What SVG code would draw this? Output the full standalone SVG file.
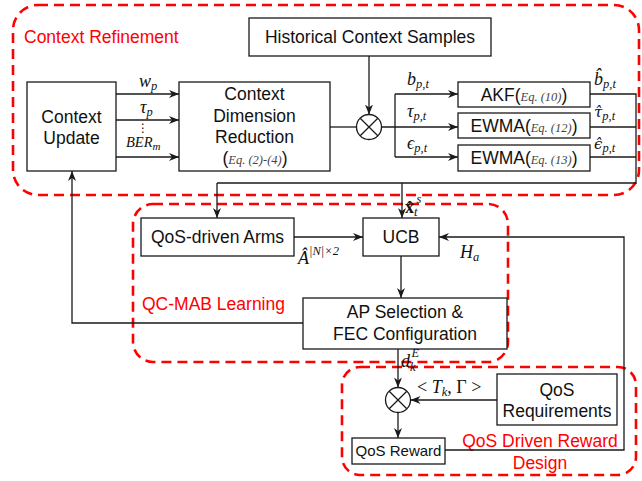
<svg xmlns="http://www.w3.org/2000/svg" width="642" height="481" viewBox="0 0 642 481">
  <defs>
    <marker id="ah" markerWidth="11" markerHeight="8" refX="10" refY="4" orient="auto" markerUnits="userSpaceOnUse">
      <path d="M0,0 L10,4 L0,8 L3,4 z" fill="#1a1a1a"/>
    </marker>
    <style>
      .box{fill:#fff;stroke:#1a1a1a;stroke-width:1.3}
      .wire{fill:none;stroke:#1a1a1a;stroke-width:1.3}
      .arr{fill:none;stroke:#1a1a1a;stroke-width:1.3;marker-end:url(#ah)}
      .zone{fill:none;stroke:#ff0000;stroke-width:2.6;stroke-dasharray:10 6}
      .t{font-family:"Liberation Sans",Arial,sans-serif;font-size:17.5px;fill:#111;text-anchor:middle}
      .ts{font-family:"Liberation Sans",Arial,sans-serif;font-size:15px;fill:#111;text-anchor:middle}
      .zl{font-family:"Liberation Sans",Arial,sans-serif;font-size:17.5px;fill:#ff0000}
      .eq{font-family:"Liberation Serif","Times New Roman",serif;font-style:italic;font-size:12.5px;fill:#444}
      .m{font-family:"Liberation Serif","DejaVu Serif",serif;font-style:italic;font-size:18px;fill:#111}
      .g{font-family:"DejaVu Serif",serif;font-size:15px}
      .s{font-size:12.5px}
      .up{font-style:normal}
    </style>
  </defs>

  <!-- dashed region outlines -->
  <g id="regions">
    <rect class="zone" x="13" y="5" width="626" height="190" rx="25"/>
    <rect class="zone" x="133" y="204" width="375" height="158" rx="20"/>
    <rect class="zone" x="342" y="367" width="294" height="108" rx="18"/>
    <text class="zl" x="24" y="43">Context Refinement</text>
    <text class="zl" x="142" y="310">QC-MAB Learning</text>
    <text class="zl" x="540" y="447" text-anchor="middle">QoS Driven Reward</text>
    <text class="zl" x="540" y="469" text-anchor="middle">Design</text>
  </g>

  <!-- connectors -->
  <g id="connectors">
    <!-- context update to dimension reduction -->
    <line class="arr" x1="116" y1="94" x2="179" y2="94"/>
    <line class="arr" x1="116" y1="120" x2="179" y2="120"/>
    <line class="arr" x1="116" y1="157" x2="179" y2="157"/>
    <!-- history into combiner -->
    <line class="arr" x1="369" y1="56" x2="369" y2="114.5"/>
    <line class="wire" x1="330" y1="127" x2="356.5" y2="127"/>
    <line class="arr" x1="381.5" y1="127" x2="458" y2="127"/>
    <line class="wire" x1="395" y1="94" x2="395" y2="157"/>
    <line class="arr" x1="395" y1="94" x2="458" y2="94"/>
    <line class="arr" x1="395" y1="157" x2="458" y2="157"/>
    <!-- filtered outputs gathered -->
    <path class="wire" d="M590,94 H636 V183 H217"/>
    <line class="wire" x1="590" y1="127" x2="636" y2="127"/>
    <line class="wire" x1="590" y1="157" x2="636" y2="157"/>
    <line class="arr" x1="217" y1="183" x2="217" y2="218"/>
    <line class="arr" x1="402" y1="183" x2="402" y2="218"/>
    <!-- learning block -->
    <line class="arr" x1="294" y1="237" x2="363" y2="237"/>
    <line class="arr" x1="401" y1="256" x2="401" y2="298"/>
    <path class="arr" d="M303,323 H72 V171"/>
    <path class="arr" d="M445,450 H624 V237 H439"/>
    <!-- reward design -->
    <line class="arr" x1="398" y1="349" x2="398" y2="387.5"/>
    <line class="arr" x1="497" y1="400" x2="410.5" y2="400"/>
    <line class="arr" x1="398" y1="412.5" x2="398" y2="438"/>
  </g>

  <!-- connector labels -->
  <g id="labels">
    <text class="m" x="139" y="87">w<tspan class="s" dy="3">p</tspan></text>
    <text class="m" x="140" y="113">τ<tspan class="s" dy="3">p</tspan></text>
    <text x="143" y="132" text-anchor="middle" style="font-size:12px;font-family:'DejaVu Sans',sans-serif;fill:#111">⋮</text>
    <text class="m" x="126" y="147" style="font-size:14.5px">BER<tspan class="s" style="font-size:11px" dy="3">m</tspan></text>

    <text class="m" x="407" y="85">b<tspan class="s" dy="3">p,t</tspan></text>
    <text class="m" x="407" y="117">τ<tspan class="s" dy="3">p,t</tspan></text>
    <text class="m" x="407" y="149">ϵ<tspan class="s" dy="3">p,t</tspan></text>

    <text class="m" x="594" y="85">b&#x302;<tspan class="s" dy="3">p,t</tspan></text>
    <text class="m" x="594" y="117"><tspan class="g">τ&#x302;</tspan><tspan class="s" dy="3">p,t</tspan></text>
    <text class="m" x="594" y="149"><tspan class="g">ϵ&#x302;</tspan><tspan class="s" dy="3">p,t</tspan></text>

    <text class="m" x="405" y="213"><tspan class="up" font-weight="bold">x&#x302;</tspan><tspan class="s" dy="3">t</tspan><tspan class="s" dx="-1" dy="-13">s</tspan></text>

    <text class="m" x="298" y="264">Â<tspan class="s" dy="-9">|N|×2</tspan></text>

    <text class="m" x="460" y="258">H<tspan class="s" dy="3">a</tspan></text>

    <text class="m" x="401" y="367">d<tspan class="s" dy="4">k</tspan><tspan class="s" dx="-4" dy="-14">E</tspan></text>

    <text class="m" x="417" y="393"><tspan class="up">&lt; </tspan>T<tspan class="s" dy="3">k</tspan><tspan dy="-3" class="up">, Γ &gt;</tspan></text>
  </g>

  <!-- nodes -->
  <g id="history">
    <rect class="box" x="249" y="18" width="242" height="38"/>
    <text class="t" x="370" y="43">Historical Context Samples</text>
  </g>
  <g id="context-update">
    <rect class="box" x="27" y="82" width="89" height="89"/>
    <text class="t" x="71.5" y="123">Context</text>
    <text class="t" x="71.5" y="144">Update</text>
  </g>
  <g id="dim-reduction">
    <rect class="box" x="179" y="82" width="151" height="89"/>
    <text class="t" x="254.5" y="100">Context</text>
    <text class="t" x="254.5" y="122">Dimension</text>
    <text class="t" x="254.5" y="143">Reduction</text>
    <text class="t" x="255" y="164">(<tspan class="eq">Eq. (2)-(4)</tspan>)</text>
  </g>
  <g id="combiner">
    <circle class="box" cx="369" cy="127" r="12.5"/>
    <path class="wire" d="M360.2,118.2 L377.8,135.8 M377.8,118.2 L360.2,135.8"/>
  </g>
  <g id="akf">
    <rect class="box" x="458" y="82" width="132" height="25"/>
    <text class="t" x="524" y="101">AKF(<tspan class="eq">Eq. (10)</tspan>)</text>
  </g>
  <g id="ewma-delay">
    <rect class="box" x="458" y="113" width="132" height="25"/>
    <text class="t" x="524" y="132">EWMA(<tspan class="eq">Eq. (12)</tspan>)</text>
  </g>
  <g id="ewma-error">
    <rect class="box" x="458" y="145" width="132" height="26"/>
    <text class="t" x="524" y="164">EWMA(<tspan class="eq">Eq. (13)</tspan>)</text>
  </g>
  <g id="arms">
    <rect class="box" x="141" y="218" width="153" height="38"/>
    <text class="t" x="217.5" y="243">QoS-driven Arms</text>
  </g>
  <g id="ucb">
    <rect class="box" x="363" y="218" width="76" height="38"/>
    <text class="t" x="401" y="243">UCB</text>
  </g>
  <g id="ap-selection">
    <rect class="box" x="303" y="298" width="204" height="51"/>
    <text class="t" x="405" y="318">AP Selection &amp;</text>
    <text class="t" x="405" y="340">FEC Configuration</text>
  </g>
  <g id="reward-combiner">
    <circle class="box" cx="398" cy="400" r="12.5"/>
    <path class="wire" d="M389.2,391.2 L406.8,408.8 M406.8,391.2 L389.2,408.8"/>
  </g>
  <g id="qos-requirements">
    <rect class="box" x="497" y="374" width="120" height="51"/>
    <text class="t" x="557" y="396">QoS</text>
    <text class="t" x="557" y="417">Requirements</text>
  </g>
  <g id="qos-reward">
    <rect class="box" x="352" y="438" width="93" height="26"/>
    <text class="ts" x="398.5" y="456">QoS Reward</text>
  </g>
</svg>
